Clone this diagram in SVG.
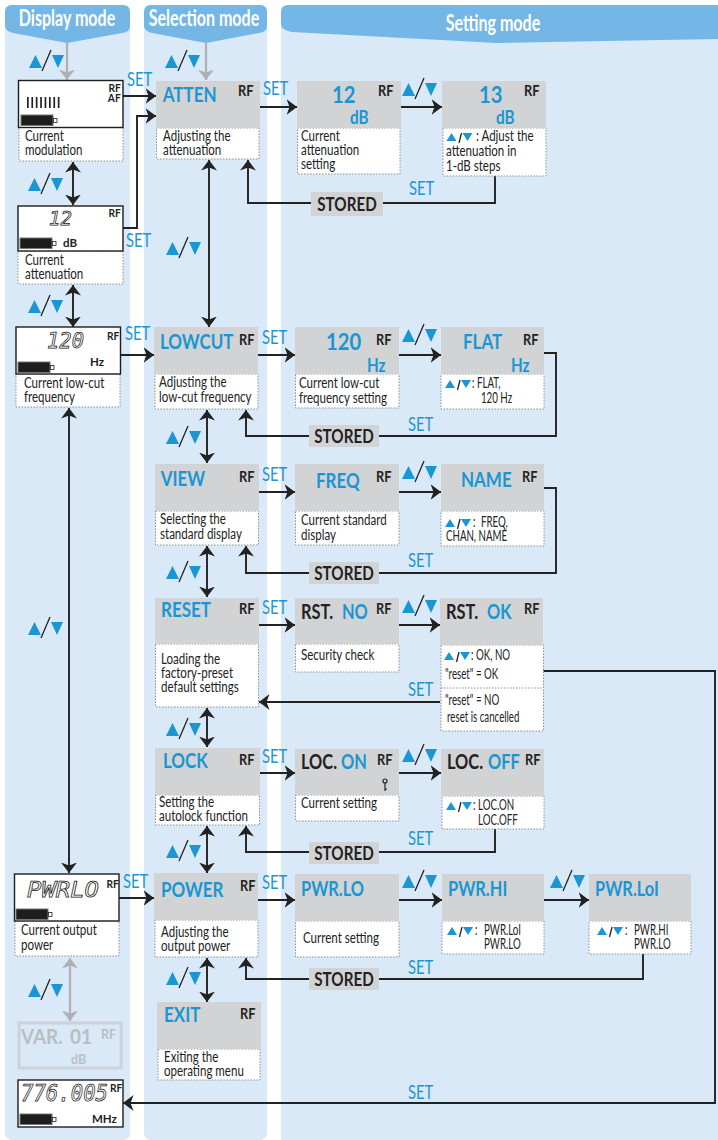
<svg xmlns="http://www.w3.org/2000/svg" width="718" height="1140" viewBox="0 0 718 1140">
<style>
text{font-family:Lato,"Liberation Sans",sans-serif;transform-box:fill-box;transform-origin:0 50%}
.panel{fill:#d9e9f7}
.head{fill:#74b6e6}
.ht{fill:#fff;font-size:22px;font-weight:700;text-anchor:middle;transform-origin:50% 50%;transform:scaleX(.73)}
.g{fill:#d2d3d5}
.cap{fill:#fff;stroke:#8a8f94;stroke-width:1;stroke-dasharray:1.5 1.5}
.lcd{fill:#fff;stroke:#1d1d1b;stroke-width:1.4}
.t{fill:#222;font-size:15px;transform:scaleX(.77)}
.s{fill:#222;font-size:14.500px;transform:scaleX(.67)}
.title{fill:#1a96d4;font-size:21.500px;font-weight:700;transform:scaleX(.79)}
.num{fill:#1a96d4;font-size:22px;font-weight:700;transform:scaleX(.92)}
.unit2{fill:#1a96d4;font-size:18px;font-weight:700;transform:scaleX(.85)}
.k2{fill:#222;font-size:21px;font-weight:700;transform:scaleX(.78)}
.b2{fill:#1a96d4;font-size:21px;font-weight:700;transform:scaleX(.78)}
.rf{fill:#222;font-size:15px;font-weight:700;transform:scaleX(.85)}
.rfs{fill:#222;font-size:12px;font-weight:700;transform:scaleX(.85)}
.unit{fill:#222;font-size:11.500px;font-weight:700}
.seg{fill:#fff;stroke:#111;stroke-width:.75;font-family:"DejaVu Sans Mono",monospace;font-style:italic}
.set{fill:#1a96d4;font-size:19px;transform:scaleX(.78)}
.st{fill:#222;font-size:19px;font-weight:700;text-anchor:middle;transform-origin:50% 50%;transform:scaleX(.8)}
.var{fill:#b9bec3;font-size:21px;font-weight:700;transform:scaleX(.9)}
.vars{fill:#b9bec3;font-size:12.500px;font-weight:700}
.c path,.c line,.c polyline{fill:none;stroke:#222;stroke-width:1.9}
.c .gr{stroke:#aeb0b3;stroke-width:2.2}
.tri{fill:#1a96d4}
.sl{stroke:#222;stroke-width:1.3;fill:none}
.key{fill:none;stroke:#222;stroke-width:1.2}
.sep{stroke:#8a8f94;stroke-dasharray:1.5 1.5}
</style>
<defs>
<marker id="a" markerWidth="11" markerHeight="16" refX="10.5" refY="8" orient="auto-start-reverse" markerUnits="userSpaceOnUse"><path d="M0 0L10.5 8L0 16L3 8Z" fill="#222"/></marker>
<marker id="ag" markerWidth="11" markerHeight="16" refX="10.5" refY="8" orient="auto-start-reverse" markerUnits="userSpaceOnUse"><path d="M0 0L10.5 8L0 16L3 8Z" fill="#aeb0b3"/></marker>
<g id="ud"><path class="tri" d="M-17 7L-10.500-6L-4 7Z"/><path class="sl" d="M-4 10L5-11"/><path class="tri" d="M6-6H18L12 7Z"/></g>
<g id="uds"><path class="tri" d="M-11 4L-6-4L-1 4Z"/><path class="sl" d="M1.500 6L4-4"/><path class="tri" d="M5-4H15L10 4Z"/></g>
<g id="bat"><rect x="0" y="0" width="32" height="10.500" fill="#1d1d1b" stroke="#777" stroke-width="1"/><rect x="32.500" y="3.500" width="3.500" height="4" fill="#fff" stroke="#222" stroke-width=".8"/></g>
</defs>

<g id="panels">
<rect class="panel" x="5" y="20" width="125" height="1120" rx="7"/>
<rect class="panel" x="144" y="20" width="123" height="1120" rx="7"/>
<rect class="panel" x="281" y="20" width="437" height="1120"/>
<path class="head" d="M12 5H123Q130 5 130 12V26Q130 32 122 33L67 43L13 33Q5 31 5 26V12Q5 5 12 5Z"/>
<path class="head" d="M151 5H260Q267 5 267 12V26Q267 32 259 33L206 43L152 33Q144 31 144 26V12Q144 5 151 5Z"/>
<path class="head" d="M288 5H718V39L497 43L292 32Q281 30 281 24V12Q281 5 288 5Z"/>
<text class="ht" x="67" y="26">Display mode</text>
<text class="ht" x="204" y="26">Selection mode</text>
<text class="ht" x="493" y="31">Setting mode</text>
</g>

<g id="connectors" class="c">
<line class="gr" x1="67" y1="43" x2="67" y2="80" marker-end="url(#ag)"/>
<line class="gr" x1="206" y1="43" x2="206" y2="80" marker-end="url(#ag)"/>
<line class="gr" x1="70" y1="958" x2="70" y2="1021" marker-start="url(#ag)" marker-end="url(#ag)"/>
<line x1="73" y1="162" x2="73" y2="205" marker-start="url(#a)" marker-end="url(#a)"/>
<line x1="73" y1="285" x2="73" y2="327" marker-start="url(#a)" marker-end="url(#a)"/>
<line x1="69" y1="408" x2="69" y2="873" marker-start="url(#a)" marker-end="url(#a)"/>
<line x1="209" y1="160" x2="209" y2="327" marker-start="url(#a)" marker-end="url(#a)"/>
<line x1="207" y1="410" x2="207" y2="463" marker-start="url(#a)" marker-end="url(#a)"/>
<line x1="207" y1="546" x2="207" y2="597" marker-start="url(#a)" marker-end="url(#a)"/>
<line x1="207" y1="708" x2="207" y2="747" marker-start="url(#a)" marker-end="url(#a)"/>
<line x1="207" y1="826" x2="207" y2="873" marker-start="url(#a)" marker-end="url(#a)"/>
<line x1="207" y1="958" x2="207" y2="1002" marker-start="url(#a)" marker-end="url(#a)"/>
<line x1="123" y1="96" x2="156" y2="96" marker-end="url(#a)"/>
<polyline points="123,228 137,228 137,116 156,116" marker-end="url(#a)"/>
<line x1="120" y1="355" x2="154" y2="355" marker-end="url(#a)"/>
<line x1="119" y1="898" x2="154" y2="898" marker-end="url(#a)"/>
<line x1="260" y1="107" x2="297" y2="107" marker-end="url(#a)"/>
<line x1="401" y1="107" x2="442" y2="107" marker-end="url(#a)"/>
<line x1="258" y1="355" x2="295" y2="355" marker-end="url(#a)"/>
<line x1="399" y1="355" x2="441" y2="355" marker-end="url(#a)"/>
<line x1="259" y1="492" x2="295" y2="492" marker-end="url(#a)"/>
<line x1="399" y1="492" x2="441" y2="492" marker-end="url(#a)"/>
<line x1="259" y1="625" x2="295" y2="625" marker-end="url(#a)"/>
<line x1="399" y1="625" x2="440" y2="625" marker-end="url(#a)"/>
<line x1="259" y1="773" x2="295" y2="773" marker-end="url(#a)"/>
<line x1="399" y1="773" x2="441" y2="773" marker-end="url(#a)"/>
<line x1="258" y1="900" x2="295" y2="900" marker-end="url(#a)"/>
<line x1="399" y1="900" x2="442" y2="900" marker-end="url(#a)"/>
<line x1="544" y1="900" x2="589" y2="900" marker-end="url(#a)"/>
<polyline points="495,176 495,203 248,203 248,160" marker-end="url(#a)"/>
<polyline points="544,353 556,353 556,436 246,436 246,410" marker-end="url(#a)"/>
<polyline points="544,488 556,488 556,573 246,573 246,546" marker-end="url(#a)"/>
<line x1="440" y1="702" x2="259" y2="702" marker-end="url(#a)"/>
<polyline points="495,829 495,852 246,852 246,826" marker-end="url(#a)"/>
<polyline points="643,954 643,979 246,979 246,958" marker-end="url(#a)"/>
<polyline points="543,671 715,671 715,1103 123,1103" marker-end="url(#a)"/>
</g>

<g id="ud-labels">
<use href="#ud" x="46" y="61"/><use href="#ud" x="182" y="61"/>
<use href="#ud" x="45" y="184"/><use href="#ud" x="45" y="306"/><use href="#ud" x="183" y="248"/>
<use href="#ud" x="45" y="628"/><use href="#ud" x="45" y="990"/>
<use href="#ud" x="183" y="437"/><use href="#ud" x="183" y="572"/><use href="#ud" x="183" y="729"/><use href="#ud" x="183" y="851"/><use href="#ud" x="183" y="978"/>
<use href="#ud" x="419" y="89"/><use href="#ud" x="419" y="335"/><use href="#ud" x="419" y="472"/><use href="#ud" x="419" y="606"/><use href="#ud" x="419" y="755"/><use href="#ud" x="419" y="881"/><use href="#ud" x="567" y="881"/>
</g>

<g id="set-labels">
<text class="set" x="127" y="86">SET</text><text class="set" x="126" y="247">SET</text><text class="set" x="263" y="95">SET</text><text class="set" x="409" y="195">SET</text>
<text class="set" x="125" y="340">SET</text><text class="set" x="262" y="344">SET</text><text class="set" x="408" y="431">SET</text>
<text class="set" x="262" y="481">SET</text><text class="set" x="408" y="567">SET</text>
<text class="set" x="262" y="614">SET</text><text class="set" x="408" y="696">SET</text>
<text class="set" x="262" y="763">SET</text><text class="set" x="408" y="845">SET</text>
<text class="set" x="123" y="888">SET</text><text class="set" x="262" y="889">SET</text><text class="set" x="408" y="974">SET</text>
<text class="set" x="408" y="1099">SET</text>
</g>

<g id="lcd-mod">
<rect class="cap" x="19" y="127" width="104" height="34"/>
<rect class="lcd" x="18.500" y="80.500" width="104.500" height="47"/>
<g fill="#222"><rect x="27" y="97" width="1.700" height="11"/><rect x="31.400" y="97" width="1.700" height="11"/><rect x="35.800" y="97" width="1.700" height="11"/><rect x="40.200" y="97" width="1.700" height="11"/><rect x="44.600" y="97" width="1.700" height="11"/><rect x="49" y="97" width="1.700" height="11"/><rect x="53.400" y="97" width="1.700" height="11"/><rect x="57.800" y="97" width="1.700" height="11"/></g>
<use href="#bat" x="21" y="115"/>
<text class="rfs" x="108.500" y="92">RF</text><text class="rfs" x="108" y="102">AF</text>
<text class="t" x="25" y="141">Current</text><text class="t" x="25" y="155">modulation</text>
</g>
<g id="lcd-atten">
<rect class="cap" x="18" y="251" width="105" height="33"/>
<rect class="lcd" x="18" y="206" width="105" height="45"/>
<text class="seg" x="49" y="225" font-size="20" textLength="23" lengthAdjust="spacingAndGlyphs">12</text>
<use href="#bat" x="20" y="238"/>
<text class="rfs" x="108.500" y="217">RF</text><text class="unit" x="63" y="247">dB</text>
<text class="t" x="25" y="265">Current</text><text class="t" x="25" y="279">attenuation</text>
</g>
<g id="lcd-lowcut">
<rect class="cap" x="16" y="374" width="104" height="33"/>
<rect class="lcd" x="16" y="327" width="104.500" height="47"/>
<text class="seg" x="47" y="348" font-size="21" textLength="37" lengthAdjust="spacingAndGlyphs">120</text>
<use href="#bat" x="18" y="362"/>
<text class="rfs" x="107" y="340">RF</text><text class="unit" x="90" y="366">Hz</text>
<text class="t" x="24" y="388">Current low-cut</text><text class="t" x="24" y="402">frequency</text>
</g>
<g id="lcd-power">
<rect class="cap" x="15" y="921" width="104" height="35"/>
<rect class="lcd" x="14.500" y="874" width="104.500" height="47"/>
<text class="seg" x="27" y="897" font-size="22" textLength="72" lengthAdjust="spacingAndGlyphs">PWRLO</text>
<use href="#bat" x="16" y="909"/>
<text class="rfs" x="106.500" y="888">RF</text>
<text class="t" x="21" y="935">Current output</text><text class="t" x="21" y="950">power</text>
</g>
<g id="lcd-var">
<rect x="19" y="1023" width="102" height="45" fill="none" stroke="#ccd2d8" stroke-width="3"/>
<text class="var" x="21" y="1044">VAR.</text>
<text class="var" x="70" y="1044">01</text>
<text class="vars" x="101" y="1039">RF</text>
<text class="vars" x="71" y="1064">dB</text>
</g>
<g id="lcd-freq">
<rect class="lcd" x="18" y="1080" width="105" height="47"/>
<text class="seg" x="21" y="1101" font-size="23" textLength="87" lengthAdjust="spacingAndGlyphs">776.005</text>
<use href="#bat" x="20" y="1114"/>
<text class="rfs" x="110" y="1092">RF</text><text class="unit" x="92" y="1123">MHz</text>
</g>

<g id="n-atten"><rect class="cap" x="156.500" y="128" width="102.500" height="31"/><rect class="g" x="156" y="81" width="104" height="47"/><text class="title" x="163" y="102">ATTEN</text><text class="rf" x="238" y="96">RF</text><text class="t" x="163" y="141">Adjusting the</text><text class="t" x="163" y="155">attenuation</text></g>
<g id="n-12"><rect class="cap" x="297.500" y="128" width="102.500" height="46"/><rect class="g" x="297" y="81" width="104" height="47"/><text class="num" x="332" y="103">12</text><text class="unit2" x="350" y="124">dB</text><text class="rf" x="378" y="96">RF</text><text class="t" x="301" y="141">Current</text><text class="t" x="301" y="155">attenuation</text><text class="t" x="301" y="169">setting</text></g>
<g id="n-13"><rect class="cap" x="443" y="128" width="103" height="48"/><rect class="g" x="442" y="81" width="104" height="47"/><text class="num" x="479" y="103">13</text><text class="unit2" x="496" y="124">dB</text><text class="rf" x="524" y="96">RF</text><use href="#uds" x="457.500" y="137"/><text class="t" x="476" y="141">: Adjust the</text><text class="t" x="446" y="156">attenuation in</text><text class="t" x="446" y="171">1-dB steps</text></g>
<g id="stored1"><rect class="g" x="311" y="192" width="72" height="24"/><text class="st" x="347" y="211">STORED</text></g>

<g id="n-lowcut"><rect class="cap" x="155" y="374" width="103" height="35"/><rect class="g" x="154" y="327" width="104" height="47"/><text class="title" x="160" y="349">LOWCUT</text><text class="rf" x="239" y="345">RF</text><text class="t" x="159" y="387">Adjusting the</text><text class="t" x="159" y="402">low-cut frequency</text></g>
<g id="n-120"><rect class="cap" x="295.500" y="374" width="103.500" height="34"/><rect class="g" x="295" y="327" width="104" height="47"/><text class="num" x="326" y="350">120</text><text class="unit2" x="367" y="372">Hz</text><text class="rf" x="376" y="345">RF</text><text class="t" x="299" y="388">Current low-cut</text><text class="t" x="299" y="403">frequency setting</text></g>
<g id="n-flat"><rect class="cap" x="441" y="374" width="103" height="35"/><rect class="g" x="441" y="327" width="103" height="47"/><text class="title" x="463" y="349">FLAT</text><text class="unit2" x="511" y="372">Hz</text><text class="rf" x="523" y="345">RF</text><use href="#uds" x="456" y="384"/><text class="s" x="472" y="388">: FLAT,</text><text class="s" x="481" y="403">120 Hz</text></g>
<g id="stored2"><rect class="g" x="309" y="425" width="70" height="22"/><text class="st" x="344" y="443">STORED</text></g>

<g id="n-view"><rect class="cap" x="155.500" y="511" width="103" height="34"/><rect class="g" x="155" y="464" width="104" height="47"/><text class="title" x="161" y="486">VIEW</text><text class="rf" x="239" y="482">RF</text><text class="t" x="160" y="524">Selecting the</text><text class="t" x="160" y="539">standard display</text></g>
<g id="n-freq"><rect class="cap" x="295.500" y="511" width="103.500" height="34"/><rect class="g" x="295" y="464" width="104" height="47"/><text class="title" x="316" y="488">FREQ</text><text class="rf" x="376" y="482">RF</text><text class="t" x="301" y="525">Current standard</text><text class="t" x="301" y="540">display</text></g>
<g id="n-name"><rect class="cap" x="441" y="511" width="103" height="35"/><rect class="g" x="441" y="464" width="103" height="47"/><text class="title" x="461" y="487">NAME</text><text class="rf" x="522" y="482">RF</text><use href="#uds" x="456" y="523"/><text class="s" x="473" y="527">:</text><text class="s" x="481" y="527">FREQ,</text><text class="s" x="446" y="541">CHAN, NAME</text></g>
<g id="stored3"><rect class="g" x="309" y="562" width="70" height="22"/><text class="st" x="344" y="580">STORED</text></g>

<g id="n-reset"><rect class="cap" x="155.500" y="644" width="103" height="63"/><rect class="g" x="155" y="598" width="104" height="46"/><text class="title" x="161" y="617">RESET</text><text class="rf" x="239" y="614">RF</text><text class="t" x="161" y="664">Loading the</text><text class="t" x="161" y="678">factory-preset</text><text class="t" x="161" y="692">default settings</text></g>
<g id="n-rstno"><rect class="cap" x="295.500" y="644" width="103.500" height="28"/><rect class="g" x="295" y="598" width="104" height="46"/><text class="k2" x="301" y="619">RST.</text><text class="b2" x="342" y="619">NO</text><text class="rf" x="376" y="614">RF</text><text class="t" x="301" y="660">Security check</text></g>
<g id="n-rstok"><rect class="cap" x="441" y="645" width="102.500" height="86"/><line class="sep" x1="441" y1="688" x2="543" y2="688"/><rect class="g" x="440" y="598" width="103" height="47"/><text class="k2" x="446" y="619">RST.</text><text class="b2" x="487" y="619">OK</text><text class="rf" x="524" y="614">RF</text><use href="#uds" x="455" y="656"/><text class="s" x="471" y="660">:</text><text class="s" x="476" y="660">OK, NO</text><text class="s" x="445" y="679">"reset" = OK</text><text class="s" x="445" y="705">"reset" = NO</text><text class="s" x="447" y="722">reset is cancelled</text></g>

<g id="n-lock"><rect class="cap" x="155.500" y="795" width="104" height="30"/><rect class="g" x="155" y="748" width="105" height="47"/><text class="title" x="163" y="768">LOCK</text><text class="rf" x="239" y="765">RF</text><text class="t" x="159" y="807">Setting the</text><text class="t" x="159" y="821">autolock function</text></g>
<g id="n-locon"><rect class="cap" x="295.500" y="795" width="103.500" height="26"/><rect class="g" x="295" y="749" width="104" height="46"/><text class="k2" x="301" y="769">LOC.</text><text class="b2" x="341" y="769">ON</text><text class="rf" x="377" y="765">RF</text><circle class="key" cx="385" cy="781" r="2"/><path class="key" d="M385 783V791M385 789H387"/><text class="t" x="301" y="808">Current setting</text></g>
<g id="n-locoff"><rect class="cap" x="442" y="796" width="102" height="33"/><rect class="g" x="441" y="749" width="103" height="47"/><text class="k2" x="447" y="769">LOC.</text><text class="b2" x="488" y="769">OFF</text><text class="rf" x="525" y="765">RF</text><use href="#uds" x="457" y="806"/><text class="s" x="473" y="810">:</text><text class="s" x="478" y="810">LOC.ON</text><text class="s" x="478" y="825">LOC.OFF</text></g>
<g id="stored4"><rect class="g" x="309" y="842" width="70" height="22"/><text class="st" x="344" y="860">STORED</text></g>

<g id="n-power"><rect class="cap" x="155" y="920" width="103" height="37"/><rect class="g" x="154" y="873" width="104" height="47"/><text class="title" x="161" y="897">POWER</text><text class="rf" x="240" y="891">RF</text><text class="t" x="161" y="937">Adjusting the</text><text class="t" x="161" y="951">output power</text></g>
<g id="n-pwrlo"><rect class="cap" x="295.500" y="921" width="103.500" height="36"/><rect class="g" x="295" y="874" width="104" height="47"/><text class="b2" x="301" y="896">PWR.LO</text><text class="t" x="303" y="943">Current setting</text></g>
<g id="n-pwrhi"><rect class="cap" x="442" y="921" width="102" height="33"/><rect class="g" x="442" y="874" width="102" height="47"/><text class="b2" x="448" y="896">PWR.HI</text><use href="#uds" x="458" y="931"/><text class="s" x="475" y="935">:</text><text class="s" x="484" y="935">PWR.LoI</text><text class="s" x="484" y="949">PWR.LO</text></g>
<g id="n-pwrloi"><rect class="cap" x="589" y="921" width="102" height="33"/><rect class="g" x="589" y="874" width="102" height="47"/><text class="b2" x="595" y="896">PWR.LoI</text><use href="#uds" x="608" y="931"/><text class="s" x="625" y="935">:</text><text class="s" x="634" y="935">PWR.HI</text><text class="s" x="634" y="949">PWR.LO</text></g>
<g id="stored5"><rect class="g" x="309" y="968" width="70" height="22"/><text class="st" x="344" y="986">STORED</text></g>

<g id="n-exit"><rect class="cap" x="158" y="1049" width="102" height="31"/><rect class="g" x="157" y="1002" width="104" height="47"/><text class="title" x="164" y="1022">EXIT</text><text class="rf" x="240" y="1019">RF</text><text class="t" x="164" y="1062">Exiting the</text><text class="t" x="164" y="1076">operating menu</text></g>
</svg>
